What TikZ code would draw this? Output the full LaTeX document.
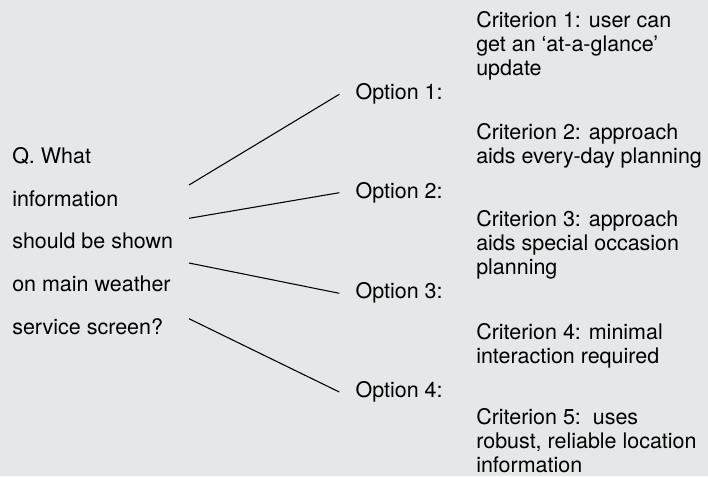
\documentclass[tikz,border=0pt]{standalone}
\usepackage{fontspec}
\setmainfont{TeX Gyre Heros}
\usepackage{tikz}
\definecolor{panelgrey}{HTML}{E6E7E8}

\begin{document}
\begin{tikzpicture}[x=0.75pt,y=-0.75pt,
		txt/.style={inner sep=0pt,anchor=north west,align=left,font=\fontsize{16.1}{18}\selectfont},
		question/.style={txt,font=\fontsize{16.1}{32.1}\selectfont},
		option/.style={inner ysep=0pt,inner xsep=12pt,anchor=west,font=\fontsize{16.1}{18}\selectfont},
		link/.style={line width=0.8pt}]
		\fill[panelgrey] (0,0) rectangle (708,476);
		\useasboundingbox (0,0) rectangle (708,476);
		\node[question] (q) at (12,147) {Q. What\\information\\should be shown\\on main weather\\service screen?};
		\begin{scope}
			\node[option] (opt1) at (339.3,94.3) {Option 1:};
			\node[option] (opt2) at (339.3,192.7) {Option 2:};
			\node[option] (opt3) at (339.3,293.3) {Option 3:};
			\node[option] (opt4) at (339.3,392) {Option 4:};
		\end{scope}
		\begin{scope}
			\node[txt] (crit1) at (476,11) {Criterion 1: user can\\get an ‘at-a-glance’\\update};
			\node[txt] (crit2) at (476,123.6) {Criterion 2: approach\\aids every-day planning};
			\node[txt] (crit3) at (476,210.3) {Criterion 3: approach\\aids special occasion\\planning};
			\node[txt] (crit4) at (476,323.6) {Criterion 4: minimal\\interaction required};
			\node[txt] (crit5) at (476,408) {Criterion 5:\ \ uses\\robust, reliable location\\information};
		\end{scope}
		\coordinate (s1) at (189,185);
		\coordinate (s2) at (189,218.3);
		\coordinate (s3) at (189,263);
		\coordinate (s4) at (189,318.7);
		\draw[link] (s1) -- (opt1.west);
		\draw[link] (s2) -- (opt2.west);
		\draw[link] (s3) -- (opt3.west);
		\draw[link] (s4) -- (opt4.west);
	\end{tikzpicture}
\end{document}
